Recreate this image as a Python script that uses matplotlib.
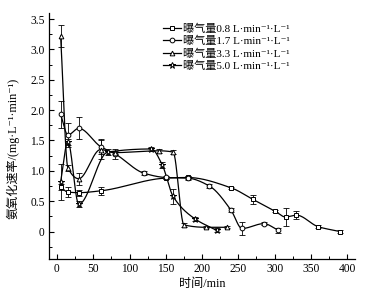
import numpy as np
import matplotlib
matplotlib.use("Agg")
import matplotlib.pyplot as plt
from matplotlib.ticker import MultipleLocator, FixedLocator

plt.rcParams['font.family'] = ['Liberation Serif', 'DejaVu Serif', 'Noto Sans CJK SC']

# aeration 0.8 L/min/L (squares)
t_08 = [5, 15, 30, 60, 150, 180, 240, 270, 300, 315, 330, 360, 390]
v_08 = [0.73, 0.65, 0.64, 0.67, 0.88, 0.89, 0.72, 0.53, 0.34, 0.24, 0.27, 0.08, 0.0]
e_08 = [0.05, 0.08, 0.05, 0.07, 0.02, 0.02, 0.02, 0.07, 0.02, 0.15, 0.06, 0.02, 0.02]

# aeration 1.7 (circles)
t_17 = [5, 15, 30, 60, 80, 120, 150, 180, 210, 240, 255, 285, 305]
v_17 = [1.93, 1.59, 1.70, 1.40, 1.28, 0.96, 0.89, 0.88, 0.75, 0.35, 0.05, 0.13, 0.02]
e_17 = [0.22, 0.20, 0.18, 0.12, 0.08, 0.03, 0.03, 0.03, 0.03, 0.03, 0.10, 0.03, 0.04]

# aeration 3.3 (triangles)
t_33 = [5, 15, 30, 60, 80, 140, 160, 175, 205, 235]
v_33 = [3.22, 1.05, 0.87, 1.35, 1.30, 1.33, 1.31, 0.11, 0.07, 0.07]
e_33 = [0.18, 0.05, 0.10, 0.15, 0.03, 0.03, 0.03, 0.03, 0.02, 0.02]

# aeration 5.0 (stars)
t_50 = [5, 15, 30, 70, 130, 145, 160, 190, 220]
v_50 = [0.82, 1.48, 0.45, 1.31, 1.36, 1.10, 0.58, 0.21, 0.02]
e_50 = [0.30, 0.05, 0.05, 0.05, 0.04, 0.05, 0.12, 0.03, 0.03]

labels = ['曝气量0.8 L·min⁻¹·L⁻¹', '曝气量1.7 L·min⁻¹·L⁻¹',
          '曝气量3.3 L·min⁻¹·L⁻¹', '曝气量5.0 L·min⁻¹·L⁻¹']


def pchip(x, y, xs):
    # monotone cubic (Fritsch-Carlson), keeps the drops from overshooting
    x = np.asarray(x, float)
    y = np.asarray(y, float)
    h = np.diff(x)
    d = np.diff(y) / h
    n = len(x)
    m = np.zeros(n)
    for k in range(1, n - 1):
        if d[k - 1] * d[k] > 0:
            w1 = 2 * h[k] + h[k - 1]
            w2 = h[k] + 2 * h[k - 1]
            m[k] = (w1 + w2) / (w1 / d[k - 1] + w2 / d[k])
    m[0] = d[0]
    m[-1] = d[-1]
    idx = np.clip(np.searchsorted(x, xs) - 1, 0, n - 2)
    s = (xs - x[idx]) / h[idx]
    h00 = 2 * s**3 - 3 * s**2 + 1
    h10 = s**3 - 2 * s**2 + s
    h01 = -2 * s**3 + 3 * s**2
    h11 = s**3 - s**2
    return h00 * y[idx] + h10 * h[idx] * m[idx] + h01 * y[idx + 1] + h11 * h[idx] * m[idx + 1]


fig = plt.figure(figsize=(3.89, 3.01), dpi=100)
ax = fig.add_axes([0.126, 0.14, 0.787, 0.817])

series = [(t_08, v_08, e_08, 's'), (t_17, v_17, e_17, 'o'),
          (t_33, v_33, e_33, '^'), (t_50, v_50, e_50, '*')]

for (t, v, e, mk), lab in zip(series, labels):
    ax.errorbar(t, v, yerr=e, fmt='none', ecolor='black', elinewidth=0.6,
                capsize=2.2, capthick=0.6, zorder=2)
    xs = np.linspace(t[0], t[-1], 400)
    ax.plot(xs, pchip(t, v, xs), color='black', lw=0.9, zorder=3)
    ms = 4.5 if mk == '*' else 3.4
    ax.plot(t, v, linestyle='none', marker=mk, ms=ms,
            mfc='white', mec='black', mew=0.7, zorder=4)
    # proxy for legend
    ax.plot([], [], color='black', lw=0.9, marker=mk, ms=ms,
            mfc='white', mec='black', mew=0.7, label=lab)

ax.set_xlim(-11, 411)
ax.set_ylim(-0.45, 3.6)
ax.xaxis.set_major_locator(FixedLocator([0, 50, 100, 150, 200, 250, 300, 350, 400]))
ax.xaxis.set_minor_locator(MultipleLocator(25))
ax.yaxis.set_major_locator(FixedLocator([0, 0.5, 1.0, 1.5, 2.0, 2.5, 3.0, 3.5]))
ax.yaxis.set_minor_locator(MultipleLocator(0.25))
ax.set_yticklabels(['0', '0.5', '1.0', '1.5', '2.0', '2.5', '3.0', '3.5'])

ax.spines['top'].set_visible(False)
ax.spines['right'].set_visible(False)
for sp in ('left', 'bottom'):
    ax.spines[sp].set_linewidth(0.9)
ax.tick_params(which='major', direction='in', length=3.5, width=0.8,
               labelsize=8.3, pad=3)
ax.tick_params(which='minor', direction='in', length=2, width=0.7)

ax.set_xlabel('时间/min', fontsize=8.7, labelpad=2)
ax.set_ylabel('氨氧化速率/(mg·L⁻¹·min⁻¹)', fontsize=8.7, labelpad=6)
ax.yaxis.set_label_coords(-0.095, 0.45)

ax.legend(loc='upper left', bbox_to_anchor=(0.35, 0.985), frameon=False,
          fontsize=8, handlelength=1.6, handletextpad=0.2,
          labelspacing=0.2, borderaxespad=0.2)

fig.savefig('out.png', dpi=100)
